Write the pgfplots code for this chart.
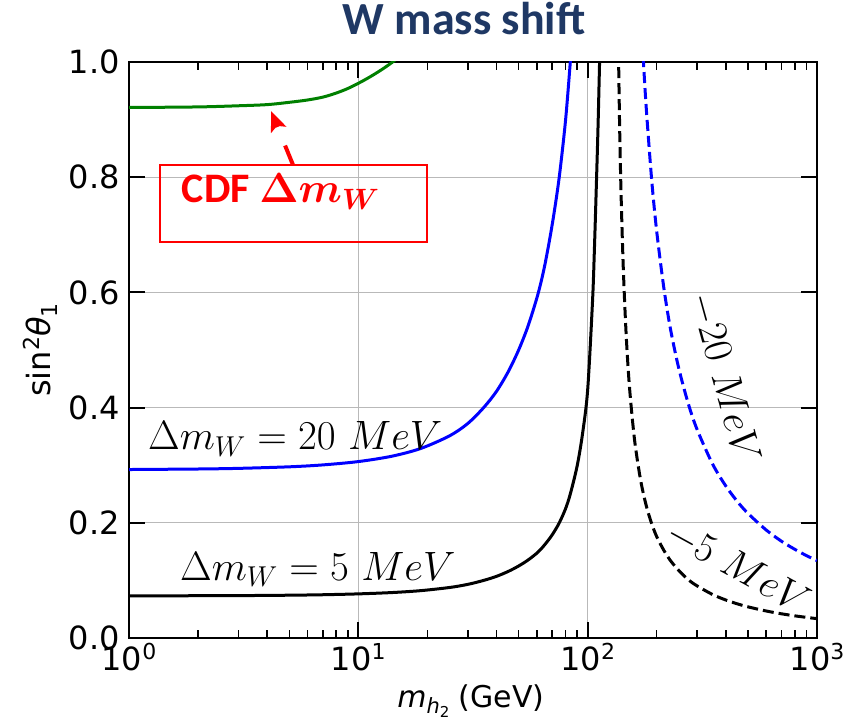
\RequirePackage{fix-cm}
\documentclass[border=0pt]{standalone}
\usepackage[no-math]{fontspec}
\usepackage{pgfplots}
\pgfplotsset{compat=1.18}
\usetikzlibrary{arrows.meta}
\newfontfamily\djv{DejaVu Sans}
\newfontfamily\carl{Carlito}
\definecolor{titleblue}{HTML}{1F3864}
\definecolor{mplgreen}{RGB}{0,128,0}
\newcommand{\tsup}[1]{\raisebox{11pt}{\fontsize{22}{22}\selectfont #1}}
\begin{document}
\begin{tikzpicture}
\path[use as bounding box] (0,0) rectangle (854pt,724pt);
\begin{axis}[
  at={(129pt,86pt)}, anchor=south west,
  scale only axis, width=688pt, height=576pt,
  xmode=log, xmin=1, xmax=1000, ymin=0, ymax=1,
  xtick={1,10,100,1000},
  minor xtick={2,3,4,5,6,7,8,9,20,30,40,50,60,70,80,90,200,300,400,500,600,700,800,900},
  xticklabels={10\tsup{0},10\tsup{1},10\tsup{2},10\tsup{3}},
  ytick={0,0.2,0.4,0.6,0.8,1.0},
  yticklabels={0.0,0.2,0.4,0.6,0.8,1.0},
  ticklabel style={font=\djv\fontsize{32}{32}\selectfont, inner sep=0pt},
  xticklabel style={anchor=north, yshift=-5pt},
  yticklabel style={anchor=east, xshift=-9pt},
  tick align=inside,
  major tick length=16pt, minor tick length=8pt,
  every major tick/.append style={line width=2pt, black},
  every minor tick/.append style={line width=1.5pt, black},
  axis line style={line width=2.5pt},
  grid=major,
  major grid style={gray!55, line width=1.2pt},
  title={W mass shift},
  title style={font=\carl\bfseries\fontsize{46}{46}\selectfont, text=titleblue, inner sep=0pt, at={(axis description cs:0.487,1.0365)}, anchor=base},
  xlabel={\textit{m}\raisebox{-6pt}{\fontsize{21}{21}\selectfont\textit{h}\raisebox{-3.5pt}{\fontsize{15}{15}\selectfont 2}}\ (GeV)},
  xlabel style={font=\djv\fontsize{30}{30}\selectfont, inner sep=0pt, at={(axis description cs:0.497,-0.1215)}, anchor=base},
  ylabel={sin\tsup{2}\textit{θ}\raisebox{-7pt}{\fontsize{22}{22}\selectfont 1}},
  ylabel style={font=\djv\fontsize{32}{32}\selectfont, inner sep=0pt, at={(axis description cs:-0.1148,0.5)}, anchor=base},
]
% green: CDF
\addplot[mplgreen, line width=3pt, smooth] table[row sep=\\] {
x y\\ 1 0.921\\ 2 0.922\\ 3 0.924\\ 4 0.926\\ 5 0.930\\ 6 0.934\\ 7 0.939\\ 8 0.946\\ 9 0.954\\ 10 0.963\\ 11 0.972\\ 12 0.981\\ 13 0.990\\ 14 0.999\\ 15 1.009\\};
% blue solid: 20 MeV
\addplot[blue, line width=3pt, smooth] table[row sep=\\] {
x y\\ 1 0.2925\\ 2 0.2934\\ 3 0.2945\\ 5 0.2972\\ 7 0.3005\\ 10 0.3063\\ 14 0.3156\\ 18.7 0.329\\ 25 0.351\\ 30 0.3724\\ 35.2 0.400\\ 40 0.428\\ 45 0.462\\ 50 0.500\\ 55 0.542\\ 60.7 0.597\\ 65 0.647\\ 70 0.717\\ 75 0.797\\ 80 0.897\\ 84 1.0\\ 86 1.058\\};
% black solid: 5 MeV
\addplot[black, line width=3pt, smooth] table[row sep=\\] {
x y\\ 1 0.0731\\ 2 0.0734\\ 3 0.0736\\ 5 0.0743\\ 7 0.0751\\ 10 0.0766\\ 14 0.0789\\ 18.7 0.0822\\ 25 0.0877\\ 30 0.0931\\ 35.2 0.100\\ 40 0.107\\ 45 0.1155\\ 50 0.125\\ 55 0.1355\\ 60.7 0.149\\ 65 0.162\\ 70 0.179\\ 75 0.199\\ 80 0.224\\ 84 0.25\\ 90 0.299\\ 95 0.355\\ 100 0.431\\ 105 0.585\\ 107 0.675\\ 109 0.78\\ 111 0.89\\ 113 1.02\\ 114 1.09\\};
% black dashed: -5 MeV
\addplot[black, line width=3pt, dash pattern=on 11pt off 5pt, smooth] table[row sep=\\] {
x y\\ 135 1.13\\ 136.4 1.004\\ 138 0.876\\ 140 0.763\\ 143 0.642\\ 147 0.531\\ 152 0.438\\ 160 0.345\\ 170 0.275\\ 180 0.230\\ 190 0.199\\ 200 0.176\\ 215 0.152\\ 230 0.134\\ 250 0.117\\ 275 0.101\\ 300 0.0905\\ 350 0.0756\\ 400 0.066\\ 450 0.0592\\ 500 0.0541\\ 600 0.0469\\ 700 0.042\\ 800 0.0385\\ 900 0.0358\\ 1000 0.0336\\};
% blue dashed: -20 MeV
\addplot[blue, line width=3pt, dash pattern=on 11pt off 5pt, smooth] table[row sep=\\] {
x y\\ 173 1.038\\ 175 1.0015\\ 180 0.921\\ 190 0.797\\ 200 0.706\\ 215 0.607\\ 230 0.535\\ 250 0.467\\ 275 0.406\\ 300 0.362\\ 350 0.3025\\ 400 0.264\\ 450 0.2367\\ 500 0.2163\\ 600 0.1876\\ 700 0.168\\ 800 0.154\\ 900 0.143\\ 1000 0.1344\\};
% annotations
\node[anchor=base west, inner sep=0pt, font=\fontsize{41}{41}\selectfont] at (axis description cs:0.0276,0.3264) {$\Delta m_W = 20\ MeV$};
\node[anchor=base west, inner sep=0pt, font=\fontsize{41}{41}\selectfont] at (axis description cs:0.0741,0.1007) {$\Delta m_W = 5\ MeV$};
\node[rotate=-74.6, inner sep=0pt, font=\fontsize{41}{41}\selectfont] at (axis description cs:0.8663,0.4514) {$-20\ MeV$};
\node[rotate=-28.8, inner sep=0pt, font=\fontsize{41}{41}\selectfont] at (axis description cs:0.8852,0.1224) {$-5\ MeV$};
\draw[red, line width=1.5pt] (axis description cs:0.0451,0.8212) rectangle (axis description cs:0.4331,0.6875);
\node[anchor=base west, inner sep=0pt, text=red, font=\carl\bfseries\fontsize{42}{42}\selectfont] at (axis description cs:0.0765,0.7557) {CDF {\boldmath$\Delta m_W$}};
\draw[red, line width=4pt, dash pattern=on 21pt off 20pt, -{Stealth[length=20pt, width=16pt, inset=4pt]}] (axis description cs:0.2384,0.8212) -- (axis description cs:0.2064,0.9149);
\end{axis}
\end{tikzpicture}
\end{document}
